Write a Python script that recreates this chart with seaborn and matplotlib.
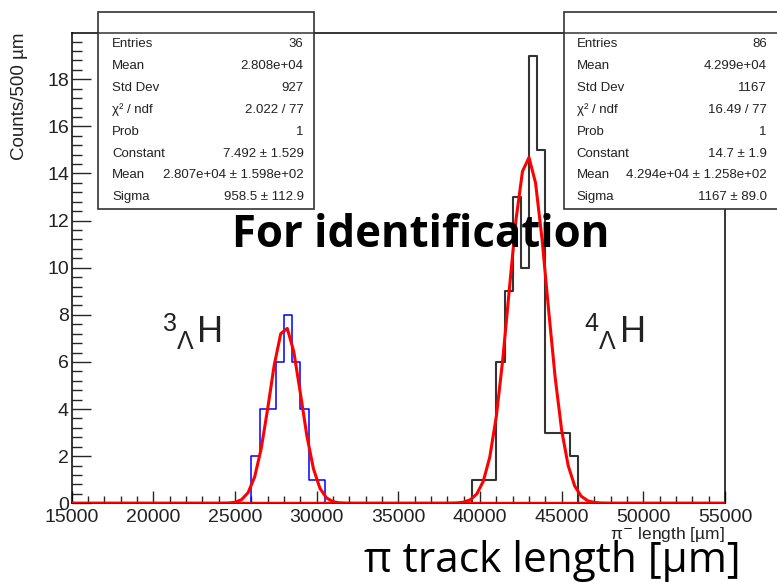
import numpy as np
import pandas as pd
import matplotlib
matplotlib.use("Agg")
import matplotlib.pyplot as plt
import seaborn as sns
from matplotlib.patches import Rectangle
from matplotlib.lines import Line2D
from matplotlib.ticker import MultipleLocator

# ---- binning: 80 bins of 500 um between 15000 and 55000 ----
x_min, x_max, bin_width = 15000, 55000, 500

# 3ΛH candidates (counts per bin, starting at the first filled edge)
h3_first_edge = 26000
h3_counts = [2, 4, 4, 6, 8, 6, 4, 1, 1]

# 4ΛH candidates
h4_first_edge = 39500
h4_counts = [1, 1, 1, 6, 9, 13, 10, 19, 15, 3, 3, 3, 2]

# gaussian fit parameters (constant, mean, sigma)
h3_fit = (7.492, 2.807e4, 958.5)
h4_fit = (14.7, 4.294e4, 1167.0)

# statistics boxes
h3_stats_labels = ["Entries", "Mean", "Std Dev", "χ² / ndf", "Prob", "Constant", "Mean", "Sigma"]
h3_stats_values = ["36", "2.808e+04", "927", "2.022 / 77", "1", "7.492 ± 1.529",
                   "2.807e+04 ± 1.598e+02", "958.5 ± 112.9"]
h4_stats_labels = ["Entries", "Mean", "Std Dev", "χ² / ndf", "Prob", "Constant", "Mean", "Sigma"]
h4_stats_values = ["86", "4.299e+04", "1167", "16.49 / 77", "1", "14.7 ± 1.9",
                   "4.294e+04 ± 1.258e+02", "1167 ± 89.0"]

x_ticks = [15000, 20000, 25000, 30000, 35000, 40000, 45000, 50000, 55000]
y_ticks = [0, 2, 4, 6, 8, 10, 12, 14, 16, 18]

# ---------------------------------------------------------------
sns.set_style("ticks")
plt.rcParams["font.family"] = ["Liberation Sans", "DejaVu Sans"]

W, H = 777, 583
fig = plt.figure(figsize=(W / 100, H / 100), dpi=100)


def fx(px):
    return px / W


def fy(py):
    return 1 - py / H


ax = fig.add_axes([fx(71.7), fy(503.3), fx(725) - fx(71.7), fy(33.3) - fy(503.3)])

n_bins = int(round((x_max - x_min) / bin_width))
centers = x_min + bin_width * (np.arange(n_bins) + 0.5)


def fill_bins(first_edge, counts):
    full = np.zeros(n_bins)
    i0 = int(round((first_edge - x_min) / bin_width))
    full[i0:i0 + len(counts)] = counts
    return full


hist_df = pd.DataFrame({
    "length": np.concatenate([centers, centers]),
    "counts": np.concatenate([fill_bins(h4_first_edge, h4_counts),
                              fill_bins(h3_first_edge, h3_counts)]),
    "species": ["4H"] * n_bins + ["3H"] * n_bins,
})

sns.histplot(data=hist_df[hist_df.species == "4H"], x="length", weights="counts",
             bins=n_bins, binrange=(x_min, x_max), element="step", fill=False,
             color="#333333", linewidth=1.5, ax=ax)
sns.histplot(data=hist_df[hist_df.species == "3H"], x="length", weights="counts",
             bins=n_bins, binrange=(x_min, x_max), element="step", fill=False,
             color="#0000ff", linewidth=1.1, ax=ax)

# gaussian fits, sampled like a 100-point polyline
fit_x = np.linspace(x_min, x_max, 101)
for const, mean, sigma in (h3_fit, h4_fit):
    fit_y = const * np.exp(-0.5 * ((fit_x - mean) / sigma) ** 2)
    sns.lineplot(x=fit_x, y=fit_y, color="#ff0000", linewidth=2.2, ax=ax,
                 sort=False, zorder=4)

ax.set_xlim(x_min, x_max)
ax.set_ylim(0, 19.95)
ax.set_xticks(x_ticks)
ax.set_yticks(y_ticks)
ax.set_xticklabels([str(t) for t in x_ticks])
ax.set_yticklabels([str(t) for t in y_ticks])
ax.xaxis.set_minor_locator(MultipleLocator(1000))
ax.yaxis.set_minor_locator(MultipleLocator(0.4))
ax.set_xlabel("")
ax.set_ylabel("")

ax.tick_params(axis="x", which="major", direction="in", length=8.5, width=1.0,
               pad=4, labelsize=14, labelcolor="#222222")
ax.tick_params(axis="x", which="minor", direction="in", length=5, width=1.0)
ax.tick_params(axis="y", which="major", direction="in", length=14, width=1.0,
               pad=2, labelsize=14, labelcolor="#222222")
ax.tick_params(axis="y", which="minor", direction="in", length=7.5, width=1.0)
for s in ax.spines.values():
    s.set_visible(True)
    s.set_linewidth(1.1)
    s.set_color("black")

# axis titles
fig.text(fx(20), fy(33), "Counts/500 µm", rotation=90, ha="center", va="top",
         fontsize=13.5, color="#222222")
fig.text(fx(725), fy(535), "π$^{-}$ length [µm]", ha="right", va="center",
         fontsize=12.5, color="#222222")


# statistics boxes
def stats_box(left, right, labels, values, label_x, value_x):
    top, bottom, header = 12, 209, 33.3
    rect = Rectangle((fx(left), fy(bottom)), fx(right) - fx(left), fy(top) - fy(bottom),
                     transform=fig.transFigure, facecolor="white", edgecolor="#333333",
                     linewidth=1.2, zorder=5)
    fig.add_artist(rect)
    fig.add_artist(Line2D([fx(left), fx(right)], [fy(header), fy(header)],
                          transform=fig.transFigure, color="#333333", linewidth=1.1,
                          zorder=6))
    for i, (lab, val) in enumerate(zip(labels, values)):
        yy = 44.3 + i * 21.85
        fig.text(fx(label_x), fy(yy), lab, ha="left", va="center", fontsize=9.5,
                 color="#222222", zorder=7)
        fig.text(fx(value_x), fy(yy), val, ha="right", va="center", fontsize=9.5,
                 color="#222222", zorder=7)


stats_box(98, 314, h3_stats_labels, h3_stats_values, 112.3, 303.5)
stats_box(564, 790, h4_stats_labels, h4_stats_values, 576.7, 766.7)

# nucleus labels
fig.text(fx(163), fy(331), "3", ha="left", va="baseline", fontsize=18, color="#222222")
fig.text(fx(177), fy(349), "Λ", ha="left", va="baseline", fontsize=18, color="#222222")
fig.text(fx(197), fy(342), "H", ha="left", va="baseline", fontsize=26, color="#222222")

fig.text(fx(584), fy(331), "4", ha="left", va="baseline", fontsize=18, color="#222222")
fig.text(fx(599), fy(349), "Λ", ha="left", va="baseline", fontsize=18, color="#222222")
fig.text(fx(620), fy(342), "H", ha="left", va="baseline", fontsize=26, color="#222222")

fig.text(fx(421), fy(236), "For identification", ha="center", va="center",
         fontsize=31.5, fontweight="bold", family=["Open Sans", "DejaVu Sans"],
         color="black", zorder=8)
fig.text(fx(552), fy(561), "π track length [µm]", ha="center", va="center",
         fontsize=30.5, family=["Open Sans", "DejaVu Sans"], color="black")

fig.savefig("out.png", dpi=100)
